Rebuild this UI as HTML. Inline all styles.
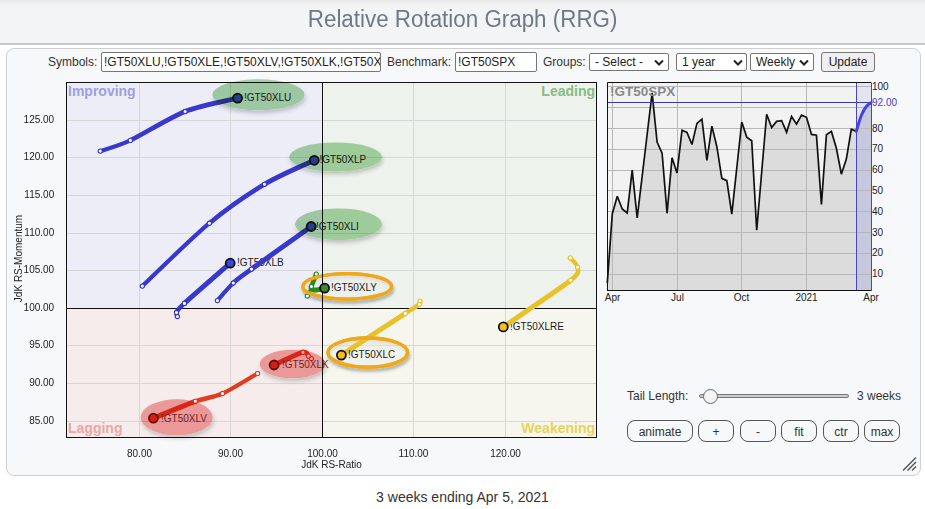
<!DOCTYPE html>
<html><head><meta charset="utf-8"><title>Relative Rotation Graph (RRG)</title>
<style>
*{box-sizing:border-box}
html,body{margin:0;padding:0;width:925px;height:509px;overflow:hidden;background:#fff;font-family:"Liberation Sans",Arial,sans-serif;}
.hdr{position:absolute;left:0;top:0;width:925px;height:45px;background:linear-gradient(#e8e8ea 0px,#f3f4f6 6px,#f3f4f6 100%);border-bottom:2px solid #c9c9c9;}
.title{position:absolute;left:0;top:5px;width:925px;text-align:center;font-size:23.5px;color:#6f7986;line-height:28px;}
.title span{display:inline-block;transform:scaleX(0.952);transform-origin:50% 50%;}
.panel{position:absolute;left:6px;top:48px;width:915px;height:428px;border:1px solid #cfcfcf;border-radius:8px;background:#f7f8fa;}
.full{position:absolute;left:0;top:0;}
.lbl{position:absolute;font-size:12px;color:#333;line-height:14px;}
.inp{position:absolute;height:20px;border:1px solid #767676;border-radius:2px;background:#fff;font-size:12px;color:#222;line-height:18px;padding-left:2px;overflow:hidden;white-space:nowrap;}
.sel{position:absolute;height:18px;border:1px solid #767676;border-radius:2px;background:#fff;font-size:12px;color:#222;line-height:16px;padding-left:5px;white-space:nowrap;}
.sel svg{position:absolute;top:5px;}
.btnu{position:absolute;left:821px;top:52px;width:54px;height:20px;border:1px solid #767676;border-radius:3px;background:#efefef;font-size:12px;color:#222;line-height:18px;text-align:center;}
.rb{position:absolute;top:420px;height:22px;border:1px solid #555;border-radius:8px;background:#f7f8fa;font-size:12px;color:#333;line-height:22px;text-align:center;}
.foot{position:absolute;left:0;top:489px;width:925px;text-align:center;font-size:14px;color:#333;line-height:16px;}
</style></head><body>
<div class="hdr"></div>
<div class="title"><span>Relative Rotation Graph (RRG)</span></div>
<div class="panel"></div>
<svg class="full" width="925" height="509" viewBox="0 0 925 509">
<defs>
<filter id="soft" x="-30%" y="-60%" width="160%" height="220%"><feGaussianBlur stdDeviation="0.8"/></filter>
<filter id="shadow" x="-30%" y="-60%" width="160%" height="220%"><feGaussianBlur in="SourceAlpha" stdDeviation="1.8"/><feOffset dx="1" dy="3" result="b"/><feFlood flood-color="#000" flood-opacity="0.3"/><feComposite in2="b" operator="in"/><feMerge><feMergeNode/><feMergeNode in="SourceGraphic"/></feMerge></filter>
<filter id="eshadow" x="-30%" y="-60%" width="160%" height="220%"><feGaussianBlur in="SourceAlpha" stdDeviation="2"/><feOffset dx="1" dy="3" result="b"/><feFlood flood-color="#000" flood-opacity="0.2"/><feComposite in2="b" operator="in" result="sh"/><feGaussianBlur in="SourceGraphic" stdDeviation="0.7" result="sg"/><feMerge><feMergeNode in="sh"/><feMergeNode in="sg"/></feMerge></filter>
</defs>
<rect x="67" y="83" width="255" height="225" fill="#ededf7"/>
<rect x="323" y="83" width="273" height="225" fill="#eef2ec"/>
<rect x="67" y="309" width="255" height="128" fill="#f7ecec"/>
<rect x="323" y="309" width="273" height="128" fill="#f7f6ee"/>
<g stroke="#d6d8d8" stroke-width="1"><line x1="139.5" y1="83" x2="139.5" y2="437" /><line x1="230.5" y1="83" x2="230.5" y2="437" /><line x1="413.5" y1="83" x2="413.5" y2="437" /><line x1="505.5" y1="83" x2="505.5" y2="437" /><line x1="67" y1="120.5" x2="596" y2="120.5" /><line x1="67" y1="157.5" x2="596" y2="157.5" /><line x1="67" y1="195.5" x2="596" y2="195.5" /><line x1="67" y1="233.5" x2="596" y2="233.5" /><line x1="67" y1="270.5" x2="596" y2="270.5" /><line x1="67" y1="345.5" x2="596" y2="345.5" /><line x1="67" y1="383.5" x2="596" y2="383.5" /><line x1="67" y1="421.5" x2="596" y2="421.5" /></g>
<g font-family="Liberation Sans, Arial, sans-serif" font-weight="bold" font-size="14">
<text x="68" y="96" fill="#9d9fdf">Improving</text>
<text x="595" y="96" fill="#85bd85" text-anchor="end">Leading</text>
<text x="68" y="433" fill="#eba6a6">Lagging</text>
<text x="595" y="433" fill="#e6d35a" text-anchor="end">Weakening</text>
</g>
<line x1="322.5" y1="83" x2="322.5" y2="437" stroke="#111" stroke-width="1"/>
<line x1="67" y1="308.5" x2="596" y2="308.5" stroke="#111" stroke-width="1"/>
<rect x="66.5" y="82.5" width="530" height="355" fill="none" stroke="#111" stroke-width="1"/>
<ellipse cx="347.2" cy="286.4" rx="44.5" ry="12.8" fill="#ffffff" fill-opacity="0.3" stroke="#f0a818" stroke-width="3.3" filter="url(#shadow)"/>
<ellipse cx="367.8" cy="352.6" rx="39.9" ry="14.6" fill="#ffffff" fill-opacity="0.3" stroke="#f0a818" stroke-width="3.3" filter="url(#shadow)"/>
<text x="237" y="266" font-family="Liberation Sans, Arial, sans-serif" font-size="10" fill="#222">!GT50XLB</text>
<text x="510" y="330" font-family="Liberation Sans, Arial, sans-serif" font-size="10" fill="#222">!GT50XLRE</text>
<path d="M100.2,151.1 C104.5,149.6 118.3,146.1 130.4,140.4" fill="none" stroke="#3838cc" stroke-width="4.2" stroke-linecap="round"/>
<path d="M130.4,140.4 C142.5,134.7 169.8,117.5 185.1,111.5" fill="none" stroke="#3838cc" stroke-width="4.6" stroke-linecap="round"/>
<path d="M185.1,111.5 C200.4,105.5 230.1,100.0 237.6,98.1" fill="none" stroke="#3838cc" stroke-width="5.0" stroke-linecap="round"/>
<circle cx="100.2" cy="151.1" r="2.1" fill="#fff" stroke="#3838cc" stroke-width="1.1"/>
<circle cx="130.4" cy="140.4" r="2.1" fill="#fff" stroke="#3838cc" stroke-width="1.1"/>
<circle cx="185.1" cy="111.5" r="2.1" fill="#fff" stroke="#3838cc" stroke-width="1.1"/>
<path d="M142.3,286.1 C151.9,277.1 191.9,237.7 209.4,223.2" fill="none" stroke="#3838cc" stroke-width="4.2" stroke-linecap="round"/>
<path d="M209.4,223.2 C226.9,208.7 249.5,193.3 264.5,184.3" fill="none" stroke="#3838cc" stroke-width="4.6" stroke-linecap="round"/>
<path d="M264.5,184.3 C279.5,175.3 307.2,163.7 314.3,160.3" fill="none" stroke="#3838cc" stroke-width="5.0" stroke-linecap="round"/>
<circle cx="142.3" cy="286.1" r="2.1" fill="#fff" stroke="#3838cc" stroke-width="1.1"/>
<circle cx="209.4" cy="223.2" r="2.1" fill="#fff" stroke="#3838cc" stroke-width="1.1"/>
<circle cx="264.5" cy="184.3" r="2.1" fill="#fff" stroke="#3838cc" stroke-width="1.1"/>
<path d="M217.4,300.6 C219.7,298.1 228.4,287.5 233.3,283" fill="none" stroke="#3838cc" stroke-width="4.2" stroke-linecap="round"/>
<path d="M233.3,283 C238.2,278.5 240.4,277.2 251.5,269.1" fill="none" stroke="#3838cc" stroke-width="4.6" stroke-linecap="round"/>
<path d="M251.5,269.1 C262.6,261.0 302.7,232.6 311.2,226.5" fill="none" stroke="#3838cc" stroke-width="5.0" stroke-linecap="round"/>
<circle cx="217.4" cy="300.6" r="2.1" fill="#fff" stroke="#3838cc" stroke-width="1.1"/>
<circle cx="233.3" cy="283" r="2.1" fill="#fff" stroke="#3838cc" stroke-width="1.1"/>
<circle cx="251.5" cy="269.1" r="2.1" fill="#fff" stroke="#3838cc" stroke-width="1.1"/>
<path d="M177.4,316.5 C177.3,315.9 175.5,314.4 176.5,312.5" fill="none" stroke="#3838cc" stroke-width="4.2" stroke-linecap="round"/>
<path d="M176.5,312.5 C177.5,310.6 176.7,310.4 184.4,303.4" fill="none" stroke="#3838cc" stroke-width="4.6" stroke-linecap="round"/>
<path d="M184.4,303.4 C192.1,296.4 223.7,268.9 230.2,263.2" fill="none" stroke="#3838cc" stroke-width="5.0" stroke-linecap="round"/>
<circle cx="177.4" cy="316.5" r="2.1" fill="#fff" stroke="#3838cc" stroke-width="1.1"/>
<circle cx="176.5" cy="312.5" r="2.1" fill="#fff" stroke="#3838cc" stroke-width="1.1"/>
<circle cx="184.4" cy="303.4" r="2.1" fill="#fff" stroke="#3838cc" stroke-width="1.1"/>
<path d="M307.3,296 L316.2,274.1" fill="none" stroke="#2a8a1a" stroke-width="2.4" stroke-linecap="round"/>
<path d="M316.2,274.1 L311.4,286.5" fill="none" stroke="#2a8a1a" stroke-width="4.6" stroke-linecap="round"/>
<path d="M311.4,286.5 C309.8,290.5 314,291.2 324.6,288.1" fill="none" stroke="#2a8a1a" stroke-width="5.0" stroke-linecap="round"/>
<circle cx="307.3" cy="296" r="2.1" fill="#fff" stroke="#2a8a1a" stroke-width="1.1"/>
<circle cx="316.2" cy="274.1" r="2.1" fill="#fff" stroke="#2a8a1a" stroke-width="1.1"/>
<circle cx="311.4" cy="286.5" r="2.1" fill="#fff" stroke="#2a8a1a" stroke-width="1.1"/>
<path d="M420,301.1 C419.9,301.6 421.5,302.5 419.4,304.3" fill="none" stroke="#e8c22a" stroke-width="4.2" stroke-linecap="round"/>
<path d="M419.4,304.3 C417.3,306.1 416.5,306.1 405.4,313.4" fill="none" stroke="#e8c22a" stroke-width="4.6" stroke-linecap="round"/>
<path d="M405.4,313.4 C394.3,320.7 350.5,349.1 341.4,355.1" fill="none" stroke="#e8c22a" stroke-width="5.0" stroke-linecap="round"/>
<circle cx="420" cy="301.1" r="2.1" fill="#fff" stroke="#e8c22a" stroke-width="1.1"/>
<circle cx="419.4" cy="304.3" r="2.1" fill="#fff" stroke="#e8c22a" stroke-width="1.1"/>
<circle cx="405.4" cy="313.4" r="2.1" fill="#fff" stroke="#e8c22a" stroke-width="1.1"/>
<ellipse cx="347.2" cy="286.4" rx="44.5" ry="12.8" fill="none" stroke="#f0a818" stroke-width="3.3"/>
<ellipse cx="367.8" cy="352.6" rx="39.9" ry="14.6" fill="none" stroke="#f0a818" stroke-width="3.3"/>
<line x1="322.5" y1="83" x2="322.5" y2="437" stroke="#111" stroke-width="1"/>
<path d="M570.3,257.9 C571.3,259.2 577.5,264.1 577.6,267.3" fill="none" stroke="#e8c22a" stroke-width="4.2" stroke-linecap="round"/>
<path d="M577.6,267.3 C577.7,270.5 581.3,271.8 570.7,280.3" fill="none" stroke="#e8c22a" stroke-width="4.6" stroke-linecap="round"/>
<path d="M570.7,280.3 C560.1,288.8 512.9,320.2 503.3,326.9" fill="none" stroke="#e8c22a" stroke-width="5.0" stroke-linecap="round"/>
<circle cx="570.3" cy="257.9" r="2.1" fill="#fff" stroke="#e8c22a" stroke-width="1.1"/>
<circle cx="577.6" cy="267.3" r="2.1" fill="#fff" stroke="#e8c22a" stroke-width="1.1"/>
<circle cx="570.7" cy="280.3" r="2.1" fill="#fff" stroke="#e8c22a" stroke-width="1.1"/>
<path d="M311.4,358.6 C311.0,358.2 309.6,357.0 308.4,356.1" fill="none" stroke="#e23b22" stroke-width="4.2" stroke-linecap="round"/>
<path d="M308.4,356.1 C307.2,355.2 307.9,350.9 303,352.2" fill="none" stroke="#e23b22" stroke-width="4.6" stroke-linecap="round"/>
<path d="M303,352.2 C298.1,353.5 278.2,363.2 274.1,365" fill="none" stroke="#e23b22" stroke-width="5.0" stroke-linecap="round"/>
<circle cx="311.4" cy="358.6" r="2.1" fill="#fff" stroke="#e23b22" stroke-width="1.1"/>
<circle cx="308.4" cy="356.1" r="2.1" fill="#fff" stroke="#e23b22" stroke-width="1.1"/>
<circle cx="303" cy="352.2" r="2.1" fill="#fff" stroke="#e23b22" stroke-width="1.1"/>
<path d="M257.6,373.4 C252.6,376.3 231.4,389.5 222.5,393.5" fill="none" stroke="#e23b22" stroke-width="4.2" stroke-linecap="round"/>
<path d="M222.5,393.5 C213.6,397.5 205.2,397.9 195.3,401.4" fill="none" stroke="#e23b22" stroke-width="4.6" stroke-linecap="round"/>
<path d="M195.3,401.4 C185.4,404.9 159.4,415.8 153.4,418.2" fill="none" stroke="#e23b22" stroke-width="5.0" stroke-linecap="round"/>
<circle cx="257.6" cy="373.4" r="2.1" fill="#fff" stroke="#e23b22" stroke-width="1.1"/>
<circle cx="222.5" cy="393.5" r="2.1" fill="#fff" stroke="#e23b22" stroke-width="1.1"/>
<circle cx="195.3" cy="401.4" r="2.1" fill="#fff" stroke="#e23b22" stroke-width="1.1"/>
<circle cx="237.6" cy="98.1" r="4.5" fill="#3a48d8" stroke="#111" stroke-width="1.8"/>
<circle cx="314.3" cy="160.3" r="4.5" fill="#3a48d8" stroke="#111" stroke-width="1.8"/>
<circle cx="311.2" cy="226.5" r="4.5" fill="#3a48d8" stroke="#111" stroke-width="1.8"/>
<circle cx="230.2" cy="263.2" r="4.5" fill="#3a48d8" stroke="#111" stroke-width="1.8"/>
<circle cx="324.6" cy="288.1" r="4.5" fill="#3a8a2a" stroke="#111" stroke-width="1.8"/>
<circle cx="341.4" cy="355.1" r="4.5" fill="#f0c020" stroke="#111" stroke-width="1.8"/>
<circle cx="503.3" cy="326.9" r="4.5" fill="#f0c020" stroke="#111" stroke-width="1.8"/>
<circle cx="274.1" cy="365" r="4.5" fill="#e03020" stroke="#6a1414" stroke-width="1.8"/>
<circle cx="153.4" cy="418.2" r="4.5" fill="#e03020" stroke="#6a1414" stroke-width="1.8"/>
<text x="244" y="101" font-family="Liberation Sans, Arial, sans-serif" font-size="10" fill="#222">!GT50XLU</text>
<text x="319.5" y="163" font-family="Liberation Sans, Arial, sans-serif" font-size="10" fill="#222">!GT50XLP</text>
<text x="316" y="229.5" font-family="Liberation Sans, Arial, sans-serif" font-size="10" fill="#222">!GT50XLI</text>
<text x="282" y="368" font-family="Liberation Sans, Arial, sans-serif" font-size="10" fill="#7a3434">!GT50XLK</text>
<text x="161" y="422" font-family="Liberation Sans, Arial, sans-serif" font-size="10" fill="#7a3434">!GT50XLV</text>
<text x="331" y="291" font-family="Liberation Sans, Arial, sans-serif" font-size="10" fill="#222">!GT50XLY</text>
<text x="348" y="358" font-family="Liberation Sans, Arial, sans-serif" font-size="10" fill="#222">!GT50XLC</text>
<g style="mix-blend-mode:multiply">
<ellipse cx="258.5" cy="94.8" rx="46" ry="15.5" fill="#a9d6a7" filter="url(#eshadow)"/>
<ellipse cx="335.6" cy="157" rx="46.4" ry="14.5" fill="#a9d6a7" filter="url(#eshadow)"/>
<ellipse cx="338.5" cy="224.2" rx="43.5" ry="15.8" fill="#a9d6a7" filter="url(#eshadow)"/>
<ellipse cx="292.7" cy="364" rx="33" ry="14.3" fill="#f2a4a4" filter="url(#eshadow)"/>
<ellipse cx="176.7" cy="417.3" rx="36" ry="18" fill="#f2a4a4" filter="url(#eshadow)"/>
</g>
<g font-family="Liberation Sans, Arial, sans-serif" font-size="10" fill="#222">
<text x="54.2" y="123.1" text-anchor="end">125.00</text>
<text x="54.2" y="160.1" text-anchor="end">120.00</text>
<text x="54.2" y="198.1" text-anchor="end">115.00</text>
<text x="54.2" y="236.1" text-anchor="end">110.00</text>
<text x="54.2" y="273.1" text-anchor="end">105.00</text>
<text x="54.2" y="311.1" text-anchor="end">100.00</text>
<text x="54.2" y="348.1" text-anchor="end">95.00</text>
<text x="54.2" y="386.1" text-anchor="end">90.00</text>
<text x="54.2" y="424.1" text-anchor="end">85.00</text>
<text x="139.5" y="457" text-anchor="middle">80.00</text>
<text x="230.5" y="457" text-anchor="middle">90.00</text>
<text x="322.5" y="457" text-anchor="middle">100.00</text>
<text x="413.5" y="457" text-anchor="middle">110.00</text>
<text x="505.5" y="457" text-anchor="middle">120.00</text>
<text x="331.5" y="468" text-anchor="middle">JdK RS-Ratio</text>
<text transform="translate(21.6,258.5) rotate(-90)" text-anchor="middle">JdK RS-Momentum</text>
</g>
<rect x="608" y="83" width="263" height="208" fill="#f2f2f2"/>
<polygon points="607.3,290.5 607.3,283 612.28,214 617.26,196.3 622.24,209 627.22,213 632.2,170.2 637.18,218 642.16,176.3 647.14,134.5 652.12,92.8 657.1,142 662.08,153.2 667.06,213.3 672.04,157.8 677.02,173 682.0,130.3 686.98,132.4 691.96,144.5 696.94,123.4 701.92,119.2 706.9,160.5 711.88,126.1 716.86,146.7 721.84,178.4 726.82,180.6 731.8,214.1 736.78,168 741.76,122 746.74,137.1 751.72,140.7 756.7,230.2 761.68,172.3 766.66,114.3 771.64,127.5 776.62,121.4 781.6,120.6 786.58,132.2 791.56,116.5 796.54,124.2 801.52,115.1 806.5,117.3 811.48,134.4 816.46,135.2 821.44,204.5 826.42,134.7 831.4,131.4 836.38,148.3 841.36,174.2 846.34,159.1 851.32,129.3 856.3,131.4 856.3,290.5" fill="#dcdcdc"/>
<rect x="857" y="83" width="14" height="208" fill="#e4e4f0"/>
<path d="M856.3,131.4 C857.1,128.8 859.6,119.7 861.3,115.5 C863.0,111.3 864.6,108.7 866.3,106.5 C867.9,104.3 870.4,103.2 871.2,102.6 L871.2,290.5 L856.3,290.5 Z" fill="#c6c8dc"/>
<g stroke="#b8b8b8" stroke-width="1"><line x1="612.5" y1="83" x2="612.5" y2="291"/><line x1="677.5" y1="83" x2="677.5" y2="291"/><line x1="741.5" y1="83" x2="741.5" y2="291"/><line x1="806.5" y1="83" x2="806.5" y2="291"/><line x1="608" y1="86.5" x2="871" y2="86.5"/><line x1="608" y1="107.5" x2="871" y2="107.5"/><line x1="608" y1="128.5" x2="871" y2="128.5"/><line x1="608" y1="149.5" x2="871" y2="149.5"/><line x1="608" y1="170.5" x2="871" y2="170.5"/><line x1="608" y1="190.5" x2="871" y2="190.5"/><line x1="608" y1="211.5" x2="871" y2="211.5"/><line x1="608" y1="232.5" x2="871" y2="232.5"/><line x1="608" y1="253.5" x2="871" y2="253.5"/><line x1="608" y1="274.5" x2="871" y2="274.5"/></g>
<polyline points="607.3,283 612.28,214 617.26,196.3 622.24,209 627.22,213 632.2,170.2 637.18,218 642.16,176.3 647.14,134.5 652.12,92.8 657.1,142 662.08,153.2 667.06,213.3 672.04,157.8 677.02,173 682.0,130.3 686.98,132.4 691.96,144.5 696.94,123.4 701.92,119.2 706.9,160.5 711.88,126.1 716.86,146.7 721.84,178.4 726.82,180.6 731.8,214.1 736.78,168 741.76,122 746.74,137.1 751.72,140.7 756.7,230.2 761.68,172.3 766.66,114.3 771.64,127.5 776.62,121.4 781.6,120.6 786.58,132.2 791.56,116.5 796.54,124.2 801.52,115.1 806.5,117.3 811.48,134.4 816.46,135.2 821.44,204.5 826.42,134.7 831.4,131.4 836.38,148.3 841.36,174.2 846.34,159.1 851.32,129.3 856.3,131.4" fill="none" stroke="#111" stroke-width="1.7" stroke-linejoin="miter" stroke-miterlimit="3"/>
<line x1="608" y1="102.5" x2="871" y2="102.5" stroke="#3a3aa6" stroke-width="1"/>
<line x1="856.5" y1="83" x2="856.5" y2="291" stroke="#4444cc" stroke-width="1"/>
<path d="M856.3,131.4 C857.1,128.8 859.6,119.7 861.3,115.5 C863.0,111.3 864.6,108.7 866.3,106.5 C867.9,104.3 870.4,103.2 871.2,102.6" fill="none" stroke="#4444dd" stroke-width="3" stroke-linecap="round"/>
<path d="M607.5,291 V82.5 H871" fill="none" stroke="#111" stroke-width="1"/>
<line x1="607.5" y1="290.5" x2="871" y2="290.5" stroke="#111" stroke-width="1"/>
<line x1="871.5" y1="82.5" x2="871.5" y2="291" stroke="#4444cc" stroke-width="1"/>
<text x="610" y="96" font-family="Liberation Sans, Arial, sans-serif" font-weight="bold" font-size="13.5" fill="#8a8a8a">!GT50SPX</text>
<g font-family="Liberation Sans, Arial, sans-serif" font-size="10" fill="#222">
<text x="872" y="89.9">100</text>
<text x="872" y="131.5">80</text>
<text x="872" y="152.3">70</text>
<text x="872" y="173.1">60</text>
<text x="872" y="193.9">50</text>
<text x="872" y="214.7">40</text>
<text x="872" y="235.5">30</text>
<text x="872" y="256.3">20</text>
<text x="872" y="277.1">10</text>
<text x="872" y="106.1" fill="#4040c0">92.00</text>
<text x="612.5" y="300.5" text-anchor="middle">Apr</text>
<text x="677.5" y="300.5" text-anchor="middle">Jul</text>
<text x="741.5" y="300.5" text-anchor="middle">Oct</text>
<text x="806.5" y="300.5" text-anchor="middle">2021</text>
<text x="871" y="300.5" text-anchor="middle">Apr</text>
</g>
<g stroke="#555" stroke-width="1.4"><line x1="903" y1="470.5" x2="916" y2="457.5"/><line x1="907.5" y1="470.5" x2="916" y2="462"/><line x1="912" y1="470.5" x2="916" y2="466.5"/></g>
</svg>
<div class="lbl" style="left:48px;top:55px">Symbols:</div>
<div class="inp" style="left:101px;top:52px;width:280px">!GT50XLU,!GT50XLE,!GT50XLV,!GT50XLK,!GT50XLB,!GT50XLC</div>
<div class="lbl" style="left:387px;top:55px">Benchmark:</div>
<div class="inp" style="left:455px;top:52px;width:82px">!GT50SPX</div>
<div class="lbl" style="left:543px;top:55px">Groups:</div>
<div class="sel" style="left:589px;top:53px;width:80px">- Select -<svg style="left:64px" width="10" height="7" viewBox="0 0 10 7"><path d="M1,1.5 L5,5.5 L9,1.5" fill="none" stroke="#222" stroke-width="2"/></svg></div>
<div class="sel" style="left:676px;top:53px;width:71px">1 year<svg style="left:56px" width="10" height="7" viewBox="0 0 10 7"><path d="M1,1.5 L5,5.5 L9,1.5" fill="none" stroke="#222" stroke-width="2"/></svg></div>
<div class="sel" style="left:750px;top:53px;width:64px">Weekly<svg style="left:48px" width="10" height="7" viewBox="0 0 10 7"><path d="M1,1.5 L5,5.5 L9,1.5" fill="none" stroke="#222" stroke-width="2"/></svg></div>
<div class="btnu">Update</div>
<div class="lbl" style="left:627px;top:389px">Tail Length:</div>
<div style="position:absolute;left:699px;top:394px;width:150px;height:4px;border:1px solid #777;border-radius:2px;background:#ccc"></div>
<div style="position:absolute;left:703px;top:389px;width:15px;height:15px;border:1px solid #666;border-radius:50%;background:#f4f4f4"></div>
<div class="lbl" style="left:857px;top:389px">3 weeks</div>
<div class="rb" style="left:627px;width:66px">animate</div>
<div class="rb" style="left:698px;width:36px">+</div>
<div class="rb" style="left:740px;width:36px">-</div>
<div class="rb" style="left:781px;width:36px">fit</div>
<div class="rb" style="left:823px;width:36px">ctr</div>
<div class="rb" style="left:864px;width:36px">max</div>
<div class="foot">3 weeks ending Apr 5, 2021</div>
</body></html>
